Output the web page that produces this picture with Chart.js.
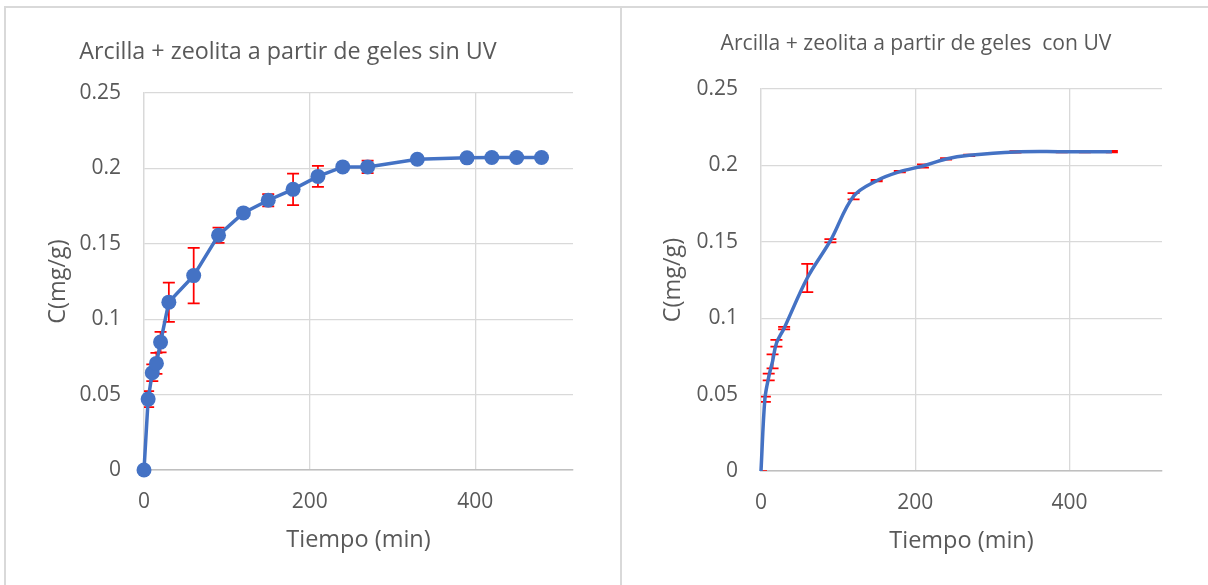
<!DOCTYPE html>
<html>
<head>
<meta charset="utf-8">
<script src="https://cdn.jsdelivr.net/npm/chart.js@4.4.0/dist/chart.umd.min.js"></script>
<style>
  html, body { margin: 0; padding: 0; background: #fff; }
  #wrap { position: relative; width: 1208px; height: 585px; overflow: hidden; background: #fff; }
  .frame { position: absolute; background: #d9d9d9; }
  canvas { position: absolute; top: 0; }
</style>
</head>
<body>
<div id="wrap">
  <div class="frame" style="left:4px;top:6px;width:2px;height:579px"></div>
  <div class="frame" style="left:4px;top:6px;width:1204px;height:2px"></div>
  <div class="frame" style="left:620px;top:6px;width:2px;height:579px"></div>
  <canvas id="sinUV" width="620" height="585" style="left:0"></canvas>
  <canvas id="conUV" width="587" height="585" style="left:621px"></canvas>
</div>
<script>
// Adsorción: concentración frente al tiempo, sin y con UV
const timeSinUV = [0, 5, 10, 15, 20, 30, 60, 90, 120, 150, 180, 210, 240, 270, 330, 390, 420, 450, 480];
const concSinUV = [0, 0.047, 0.0645, 0.0707, 0.0848, 0.1113, 0.1289, 0.1557, 0.1705, 0.1789, 0.1861, 0.1947, 0.201, 0.201, 0.2061, 0.207, 0.2072, 0.2072, 0.2072];
const errSinUV  = [0, 0.0053, 0.0055, 0.007, 0.0068, 0.013, 0.0184, 0.0051, 0.001, 0.004, 0.0105, 0.007, 0.001, 0.0042, 0.001, 0.001, 0.001, 0.001, 0.001];

const timeConUV = [0, 5, 10, 15, 20, 30, 60, 90, 120, 150, 180, 210, 240, 270, 330, 390, 420, 455];
const concConUV = [0, 0.0469, 0.0615, 0.0718, 0.0836, 0.0935, 0.1263, 0.1507, 0.1798, 0.19, 0.1959, 0.1996, 0.2042, 0.2066, 0.2088, 0.209, 0.209, 0.209];
const errConUV  = [0, 0.0017, 0.0022, 0.0046, 0.0022, 0.0008, 0.0093, 0.0011, 0.002, 0.0005, 0.0005, 0.001, 0.0005, 0.0005, 0.0005, 0.0005, 0.0005, 0.0005];

const xTickValues = [0, 200, 400];
const yTickValues = [0, 0.05, 0.1, 0.15, 0.2, 0.25];
const yTickLabels = ['0', '0.05', '0.1', '0.15', '0.2', '0.25'];

const FONT = "'Open Sans', 'Noto Sans', sans-serif";
const TEXT = '#595959';
const BLUE = '#4472C4';

// vertical error bars with caps, drawn beneath the series
const errorBars = {
  id: 'errorBars',
  beforeDatasetsDraw(chart, args, opts) {
    const { ctx, chartArea: a, scales: { x, y } } = chart;
    const ds = chart.data.datasets[0];
    ctx.save();
    ctx.beginPath();
    ctx.rect(a.left, a.top - 20, a.right - a.left, a.bottom - a.top + 20);
    ctx.clip();
    ctx.strokeStyle = opts.color;
    ctx.lineWidth = opts.width;
    ds.data.forEach((p, i) => {
      const e = opts.errors[i];
      const px = x.getPixelForValue(p.x);
      const top = y.getPixelForValue(p.y + e);
      const bot = y.getPixelForValue(p.y - e);
      ctx.beginPath();
      ctx.moveTo(px, top); ctx.lineTo(px, bot);
      ctx.moveTo(px - opts.cap, top); ctx.lineTo(px + opts.cap, top);
      ctx.moveTo(px - opts.cap, bot); ctx.lineTo(px + opts.cap, bot);
      ctx.stroke();
    });
    ctx.restore();
  }
};

// heading placed over each panel
const panelTitle = {
  id: 'panelTitle',
  afterDraw(chart, args, opts) {
    const { ctx } = chart;
    ctx.save();
    ctx.font = opts.size + 'px ' + FONT;
    ctx.fillStyle = TEXT;
    ctx.textAlign = 'center';
    ctx.textBaseline = 'alphabetic';
    ctx.fillText(opts.text, opts.x, opts.y);
    ctx.restore();
  }
};

function makeChart(id, cfg) {
  return new Chart(document.getElementById(id), {
    type: 'line',
    data: {
      datasets: [{
        data: cfg.times.map((t, i) => ({ x: t, y: cfg.conc[i] })),
        borderColor: BLUE,
        backgroundColor: BLUE,
        borderWidth: 3.5,
        pointRadius: cfg.pointRadius,
        pointHoverRadius: cfg.pointRadius,
        pointBorderWidth: 0,
        tension: cfg.tension,
        fill: false,
        clip: false
      }]
    },
    plugins: [errorBars, panelTitle],
    options: {
      responsive: false,
      animation: false,
      events: [],
      layout: { padding: { left: 0, top: cfg.top, right: cfg.right, bottom: 0 } },
      plugins: {
        legend: { display: false },
        tooltip: { enabled: false },
        errorBars: { errors: cfg.err, color: '#FF0000', width: 1.75, cap: 6 },
        panelTitle: { text: cfg.title, size: cfg.titleSize, x: cfg.titleX, y: cfg.titleY }
      },
      scales: {
        x: {
          type: 'linear',
          min: 0,
          max: cfg.xMax,
          afterFit: s => { s.height = cfg.xHeight; },
          afterBuildTicks: s => { s.ticks = xTickValues.map(v => ({ value: v })); },
          ticks: { color: TEXT, font: { family: FONT, size: 21 }, padding: 19, maxRotation: 0 },
          grid: { color: '#d9d9d9', lineWidth: 1.3, drawTicks: false },
          border: { color: '#bfbfbf', width: 1.6 },
          title: {
            display: true, text: 'Tiempo (min)', color: TEXT,
            font: { family: FONT, size: 23.5 },
            padding: { top: 0, bottom: cfg.xTitlePad }
          }
        },
        y: {
          type: 'linear',
          min: 0,
          max: 0.25,
          afterFit: s => { s.width = cfg.yWidth; },
          afterBuildTicks: s => { s.ticks = yTickValues.map(v => ({ value: v })); },
          ticks: {
            color: TEXT, font: { family: FONT, size: 21 }, padding: 23,
            callback: (v) => yTickLabels[yTickValues.findIndex(t => Math.abs(t - v) < 1e-9)]
          },
          grid: { color: '#d9d9d9', lineWidth: 1.3, drawTicks: false },
          border: { color: '#d9d9d9', width: 1.3 },
          title: {
            display: true, text: 'C(mg/g)', color: TEXT,
            font: { family: FONT, size: 23.5 },
            padding: { top: cfg.yTitlePad, bottom: 0 }
          }
        }
      }
    }
  });
}

makeChart('sinUV', {
  times: timeSinUV, conc: concSinUV, err: errSinUV,
  pointRadius: 7.5, tension: 0,
  top: 93, right: 47, xHeight: 115, yWidth: 144, xMax: 518,
  xTitlePad: 30.9, yTitlePad: 43.9,
  title: 'Arcilla + zeolita a partir de geles sin UV', titleSize: 23.3, titleX: 288, titleY: 59
});

makeChart('conUV', {
  times: timeConUV, conc: concConUV, err: errConUV,
  pointRadius: 0, tension: 0.35,
  top: 89, right: 46, xHeight: 114, yWidth: 140, xMax: 520,
  xTitlePad: 29.2, yTitlePad: 37.9,
  title: 'Arcilla + zeolita a partir de geles  con UV', titleSize: 21.1, titleX: 295, titleY: 50
});
</script>
</body>
</html>
